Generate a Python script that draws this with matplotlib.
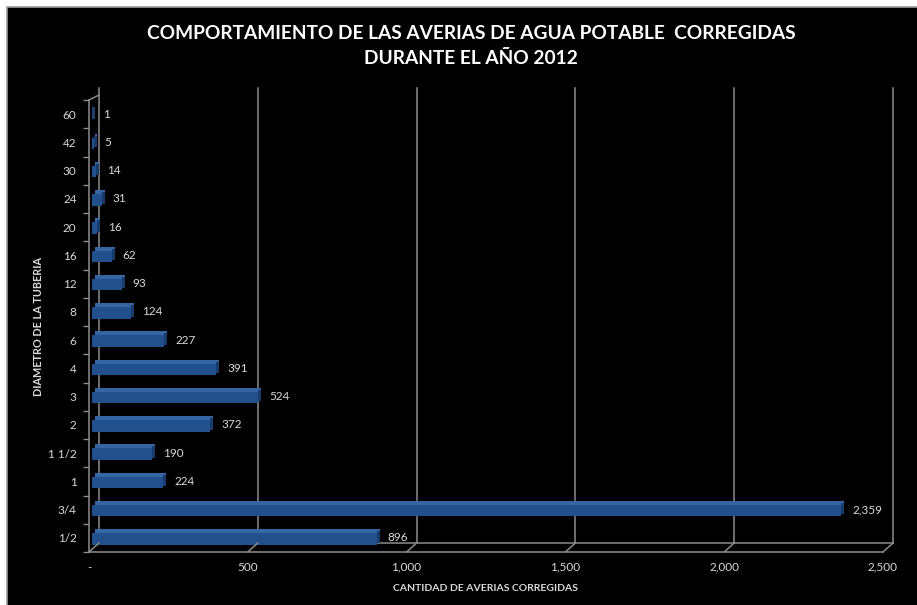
import numpy as np
import matplotlib
matplotlib.use("Agg")
import matplotlib.pyplot as plt
import matplotlib.transforms as mtransforms
from matplotlib.patches import Rectangle
from matplotlib.lines import Line2D

# datos
diametros = ["1/2", "3/4", "1", "1 1/2", "2", "3", "4", "6", "8", "12", "16", "20", "24", "30", "42", "60"]
averias = [896, 2359, 224, 190, 372, 524, 391, 227, 124, 93, 62, 16, 31, 14, 5, 1]
x_ticks = [0, 500, 1000, 1500, 2000, 2500]
x_tick_labels = ["-", "500", "1,000", "1,500", "2,000", "2,500"]

titulo = "COMPORTAMIENTO DE LAS AVERIAS DE AGUA POTABLE  CORREGIDAS\nDURANTE EL AÑO 2012"
y_label = "DIAMETRO DE LA TUBERIA"
x_label = "CANTIDAD DE AVERIAS CORREGIDAS"

plt.rcParams['font.family'] = ['Lato', 'DejaVu Sans']

W, H = 917, 605
fig = plt.figure(figsize=(W/100, H/100), dpi=100, facecolor='white')

# fondo negro del grafico
fig.patches.append(Rectangle((7/W, -0.01), 1.0, (H-7)/H + 0.01, transform=fig.transFigure,
                             facecolor='black', edgecolor='#9a9a9a', lw=1.2, zorder=-10))

ax = fig.add_axes([89/W, 53/H, 794/W, 452/H])
ax.set_facecolor('none')
for s in ax.spines.values():
    s.set_visible(False)

ax.set_xlim(0, 2500)
ax.set_ylim(-0.5, 15.5)

grid_col = '#8c8c8c'
def shift(dx, dy):
    # desplazamiento en pixeles (dpi 100)
    return ax.transData + mtransforms.ScaledTranslation(dx / 100, dy / 100, fig.dpi_scale_trans)

back = shift(10, 9)

# pared del fondo y lineas de division
for v in x_ticks:
    ax.plot([v, v], [-0.5, 15.6], color=grid_col, lw=1.1, transform=back, clip_on=False, zorder=1)
ax.plot([0, 2500], [-0.5, -0.5], color=grid_col, lw=1.1, transform=back, clip_on=False, zorder=1)

# ejes frontales
ax.plot([0, 2500], [-0.5, -0.5], color=grid_col, lw=1.1, clip_on=False, zorder=4)
ax.plot([0, 0], [-0.5, 15.5], color=grid_col, lw=1.1, clip_on=False, zorder=4)

# conectores diagonales
fig.canvas.draw()
ident = mtransforms.IdentityTransform()
for v in x_ticks:
    p = ax.transData.transform((v, -0.5))
    ax.add_line(Line2D([p[0], p[0] + 10], [p[1], p[1] + 9], color=grid_col, lw=1.1,
                       transform=ident, clip_on=False, zorder=4))
p = ax.transData.transform((0, 15.5))
ax.add_line(Line2D([p[0], p[0] + 10], [p[1], p[1] + 5], color=grid_col, lw=1.1,
                   transform=ident, clip_on=False, zorder=4))

# barras con efecto 3D
pos = np.arange(len(diametros))
px = 2500 / 794  # unidades de datos por pixel
side = 3 * px
ax.barh(pos, averias, height=0.40, color='#3565a3', transform=shift(6, 3), zorder=2)
ax.barh(pos, side, left=averias, height=0.40, color='#183d6c', transform=shift(3, 1), zorder=2)
ax.barh(pos, averias, height=0.40, color='#22508d', transform=shift(3, -1), zorder=3)

for i, v in enumerate(averias):
    ax.annotate(f"{v:,}", (v, i), xytext=(14, 0), textcoords='offset pixels',
                va='center', ha='left', color='#d9d9d9', fontsize=8.5, zorder=5)

ax.set_yticks(pos)
ax.set_yticklabels(diametros)
ax.set_yticks(np.arange(-0.5, 16, 1), minor=True)
ax.tick_params(axis='y', which='major', length=0, pad=9, labelcolor='#d9d9d9', labelsize=8.5)
ax.tick_params(axis='y', which='minor', length=4, color=grid_col, width=1)

ax.set_xticks(x_ticks)
ax.set_xticklabels(x_tick_labels)
ax.tick_params(axis='x', length=0, pad=7, labelcolor='#d9d9d9', labelsize=8.5)

ax.set_xlabel(x_label, color='#d9d9d9', fontsize=7.5, fontweight='bold', labelpad=8)
ax.set_ylabel(y_label, color='#d9d9d9', fontsize=7.8, fontweight='bold', labelpad=3)

fig.text(471/W, 1 - 46/H, titulo, ha='center', va='center', color='white',
         fontsize=13.8, fontweight='bold', linespacing=1.6)

fig.savefig("out.png", dpi=100, facecolor='white')
